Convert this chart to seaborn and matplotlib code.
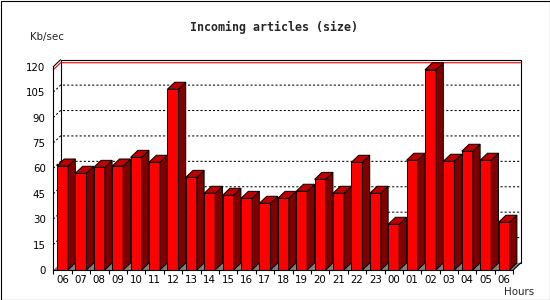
import matplotlib
matplotlib.use("Agg")
import matplotlib.pyplot as plt
import seaborn as sns
import pandas as pd
from matplotlib.patches import Polygon, Rectangle
from matplotlib.ticker import FixedLocator

# Data (Kb/sec per hour)
hours = ['06', '07', '08', '09', '10', '11', '12', '13', '14', '15', '16', '17', '18',
         '19', '20', '21', '22', '23', '00', '01', '02', '03', '04', '05', '06']
kbps = [61.4, 57.1, 60.6, 61.4, 66.5, 63.6, 106.7, 54.7, 45.3, 44.1, 42.3, 39.4, 42.3,
        46.5, 53.5, 45.3, 63.6, 45.3, 27.0, 64.8, 118.2, 64.2, 70.1, 64.8, 28.2]
y_ticks = [0, 15, 30, 45, 60, 75, 90, 105, 120]

df = pd.DataFrame({'slot': range(len(kbps)), 'kbps': kbps})

# 3D depth offsets in data units
DX = 0.397
DY = 4.13
n = len(kbps)
x0, x1 = -0.5, n - 0.5

sns.set_style("white")
plt.rcParams['font.family'] = ['DejaVu Sans']

fig = plt.figure(figsize=(5.5, 3), dpi=100)
ax = fig.add_axes([53.3 / 550, 30 / 300, 460 / 550, 203.3 / 300])

sns.barplot(data=df, x='slot', y='kbps', color='#ff0000', saturation=1, width=0.6,
            edgecolor='black', linewidth=0.7, ax=ax)

ax.set_xlim(x0, x1)
ax.set_ylim(0, 120)

# bar sides and tops
for p in list(ax.patches):
    bx, bw, bh = p.get_x(), p.get_width(), p.get_height()
    p.set_zorder(3)
    p.set_clip_on(False)
    side = Polygon([(bx + bw, 0), (bx + bw, bh), (bx + bw + DX, bh + DY), (bx + bw + DX, DY)],
                   closed=True, facecolor='#800000', edgecolor='black', lw=0.7, zorder=3, clip_on=False)
    top = Polygon([(bx, bh), (bx + bw, bh), (bx + bw + DX, bh + DY), (bx + DX, bh + DY)],
                  closed=True, facecolor='#c00000', edgecolor='black', lw=0.7, zorder=3, clip_on=False)
    ax.add_patch(side)
    ax.add_patch(top)

# back wall
ax.add_patch(Rectangle((x0 + DX, DY), x1 - x0, 120, facecolor='white', edgecolor='black',
                       lw=0.8, zorder=0.5, clip_on=False))
# floor (gray, only visible between bars)
ax.add_patch(Polygon([(x0, 0), (x1, 0), (x1 + DX, DY), (x0 + DX, DY)], closed=True,
                     facecolor='#808080', edgecolor='none', zorder=0.6, clip_on=False))
ax.plot([x1, x1 + DX], [0, DY], color='black', lw=0.8, zorder=1, clip_on=False)
# left wall top edge
ax.plot([x0, x0 + DX], [120, 120 + DY], color='black', lw=0.8, zorder=1, clip_on=False)

# dotted gridlines on side + back wall
for v in y_ticks[1:-1]:
    ax.plot([x0, x0 + DX, x1 + DX], [v, v + DY, v + DY], color='black', lw=0.75,
            linestyle=(0, (2, 2)), zorder=0.7, clip_on=False)

# max line
m = max(kbps)
ax.plot([x0, x0 + DX, x1 + DX], [m, m + DY, m + DY], color='#e00000', lw=0.8, zorder=0.8, clip_on=False)

# axes styling
for s in ['top', 'right']:
    ax.spines[s].set_visible(False)
for s in ['left', 'bottom']:
    ax.spines[s].set_color('black')
    ax.spines[s].set_linewidth(0.8)
    ax.spines[s].set_zorder(4)

ax.set_yticks(y_ticks)
ax.set_yticklabels([str(v) for v in y_ticks])
ax.xaxis.set_major_locator(FixedLocator([i - 0.5 for i in range(n + 1)]))
ax.xaxis.set_major_formatter(plt.NullFormatter())
ax.xaxis.set_minor_locator(FixedLocator(list(range(n))))
ax.set_xticklabels(hours, minor=True)
ax.tick_params(axis='both', which='major', direction='out', length=3, width=0.8,
               color='black', labelsize=7.4, labelcolor='black', pad=2.5)
ax.tick_params(axis='x', which='minor', length=0, labelsize=7.4, labelcolor='black', pad=3.5)
ax.tick_params(axis='x', which='major', bottom=True)
ax.set_xlabel('')
ax.set_ylabel('')

fig.text(274 / 550, 1 - 27 / 300, 'Incoming articles (size)', ha='center', va='center',
         fontsize=8.4, fontweight='bold', family='DejaVu Sans Mono')
fig.text(30 / 550, 1 - 37 / 300, 'Kb/sec', ha='left', va='center', fontsize=7.4)
fig.text(504 / 550, 1 - 292 / 300, 'Hours', ha='left', va='center', fontsize=7.4)

fig.patches.append(Rectangle((0.5 / 550, 0.5 / 300), 549 / 550, 299 / 300, transform=fig.transFigure,
                             fill=False, edgecolor='black', lw=0.8))

fig.savefig('out.png', dpi=100)
